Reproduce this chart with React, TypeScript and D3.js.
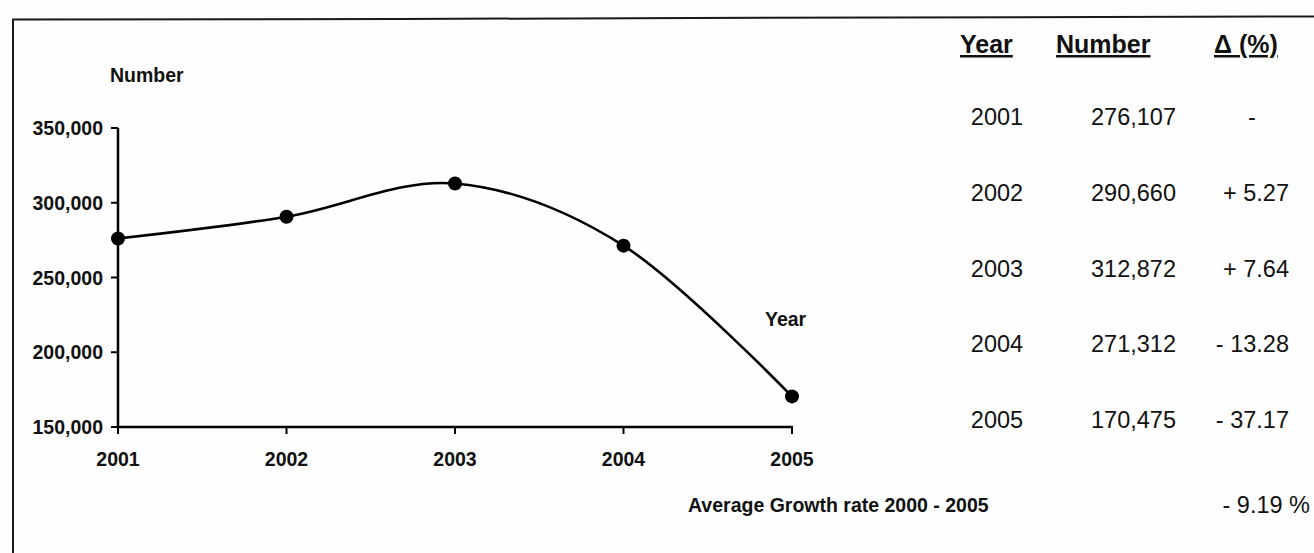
import React from "react";
import * as d3 from "d3";

const years = [2001, 2002, 2003, 2004, 2005];
const numbers = [276107, 290660, 312872, 271312, 170475];
const deltas = ["-", "+ 5.27", "+ 7.64", "- 13.28", "- 37.17"];
const yTicks = [150000, 200000, 250000, 300000, 350000];
const headers = ["Year", "Number", "Δ (%)"];
const avgLabel = "Average Growth rate 2000 - 2005";
const avgValue = "- 9.19 %";
const yTitle = "Number";
const xTitle = "Year";

const W = 1314;
const H = 553;
const FONT = "Arial, 'Liberation Sans', Helvetica, sans-serif";

export default function App() {
  const x = d3.scaleLinear().domain([2001, 2005]).range([118, 792]);
  const y = d3.scaleLinear().domain([150000, 350000]).range([427, 128]);
  const line = d3
    .line<number>()
    .x((_, i) => x(years[i]))
    .y((d) => y(d))
    .curve(d3.curveCardinal.tension(0));
  const fmt = d3.format(",");
  const rowY = d3.scaleLinear().domain([0, 4]).range([125, 428]);

  return (
    <svg
      width={W}
      height={H}
      style={{ position: "absolute", left: 0, top: 0, background: "#fff" }}
      fontFamily={FONT}
    >
      <rect x={0} y={0} width={W} height={H} fill="#fefefe" />
      {/* frame */}
      <polyline
        points="13,553 13,19.5 400,19 692,18 1314,16.5"
        fill="none"
        stroke="#1a1a1a"
        strokeWidth={2}
      />

      {/* axes */}
      <line x1={x(2001)} y1={y(350000)} x2={x(2001)} y2={y(150000) + 1} stroke="#000" strokeWidth={2.5} />
      <line x1={x(2001)} y1={y(150000)} x2={x(2005) + 1} y2={y(150000)} stroke="#000" strokeWidth={2.5} />
      {yTicks.map((t) => (
        <g key={t}>
          <line x1={x(2001) - 7} x2={x(2001)} y1={y(t)} y2={y(t)} stroke="#000" strokeWidth={2} />
          <text
            x={103}
            y={y(t) + 7}
            textAnchor="end"
            fontSize={19.5}
            fontWeight="bold"
            fill="#111"
          >
            {fmt(t)}
          </text>
        </g>
      ))}
      {years.map((yr) => (
        <g key={yr}>
          <line x1={x(yr)} x2={x(yr)} y1={y(150000)} y2={y(150000) + 7} stroke="#000" strokeWidth={2} />
          <text
            x={x(yr)}
            y={466}
            textAnchor="middle"
            fontSize={19.5}
            fontWeight="bold"
            fill="#111"
          >
            {yr}
          </text>
        </g>
      ))}
      <text x={110} y={82} fontSize={19.5} fontWeight="bold" fill="#111">
        {yTitle}
      </text>
      <text x={765} y={326} fontSize={19.5} fontWeight="bold" fill="#111">
        {xTitle}
      </text>

      {/* series */}
      <path d={line(numbers) || ""} fill="none" stroke="#000" strokeWidth={2.6} />
      {numbers.map((v, i) => (
        <circle key={i} cx={x(years[i])} cy={y(v)} r={7} fill="#000" />
      ))}

      {/* table */}
      <text x={960} y={53} fontSize={25} fontWeight="bold" textDecoration="underline" fill="#111">
        {headers[0]}
      </text>
      <text x={1056} y={53} fontSize={25} fontWeight="bold" textDecoration="underline" fill="#111">
        {headers[1]}
      </text>
      <text x={1214} y={53} fontSize={25} fontWeight="bold" textDecoration="underline" fill="#111">
        {headers[2]}
      </text>
      {years.map((yr, i) => (
        <g key={"row" + yr}>
          <text x={997} y={rowY(i)} textAnchor="middle" fontSize={23.5} fill="#111">
            {yr}
          </text>
          <text x={1176} y={rowY(i)} textAnchor="end" fontSize={23.5} fill="#111">
            {fmt(numbers[i])}
          </text>
          <text
            x={deltas[i] === "-" ? 1252 : 1289}
            y={rowY(i)}
            textAnchor={deltas[i] === "-" ? "middle" : "end"}
            fontSize={23.5}
            fill="#111"
          >
            {deltas[i]}
          </text>
        </g>
      ))}
      <text x={688} y={512} fontSize={19.5} fontWeight="bold" fill="#111">
        {avgLabel}
      </text>
      <text x={1310} y={513} textAnchor="end" fontSize={23.5} fill="#111">
        {avgValue}
      </text>
    </svg>
  );
}
